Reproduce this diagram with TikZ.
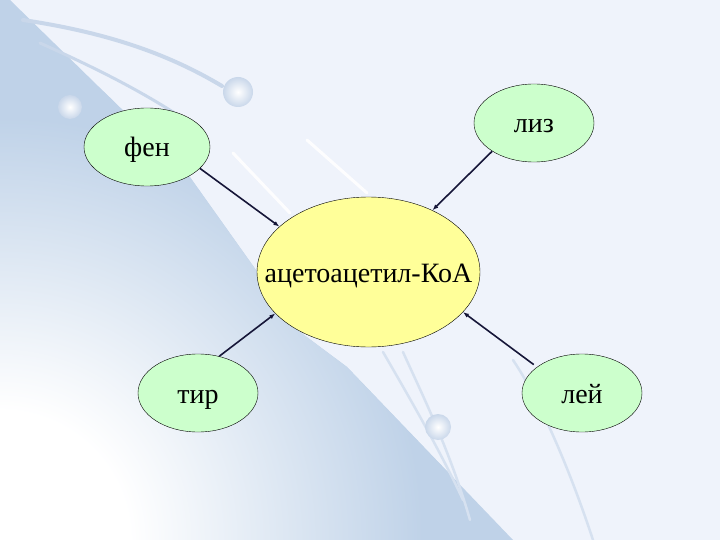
\documentclass[tikz,border=0pt]{standalone}
\usepackage{fontspec}
\setmainfont{Liberation Serif}
\usetikzlibrary{shapes.geometric,arrows.meta}

\definecolor{paleblue}{HTML}{EFF3FB}
\definecolor{bandblue}{HTML}{BFD2E8}
\definecolor{streak}{HTML}{C9D7EA}
\definecolor{aminogreen}{HTML}{CCFFCC}
\definecolor{koayellow}{HTML}{FFFF99}
\definecolor{arrowblue}{HTML}{161638}

\pgfdeclareradialshading{cornerglow}{\pgfpoint{0bp}{0bp}}{color(0bp)=(white); color(7bp)=(white); color(23bp)=(bandblue); color(25bp)=(bandblue); color(50bp)=(bandblue)}

\tikzset{
  labeltext/.style={font=\fontsize{28}{32}\selectfont, text height=26pt, text depth=6pt},
  amino/.style={ellipse, draw=black, thin, fill=aminogreen, inner sep=0pt,
    minimum width=120pt, minimum height=78pt, labeltext},
  koa/.style={ellipse, draw=black, thin, fill=koayellow, inner sep=0pt,
    minimum width=223pt, minimum height=150pt},
  feed/.style={draw=arrowblue, line width=1.6pt, -{Latex[length=6pt,width=4.5pt]}},
  streakline/.style={draw=streak, line width=#1, line cap=round},
  streakline/.default=3pt,
  faintline/.style={draw=streak!65!paleblue, line width=2.5pt, line cap=round},
  glint/.style={draw=white, line width=3pt, line cap=round, opacity=0.9},
  bead/.style={inner color=white, outer color=streak, draw=none}
}

\begin{document}
\begin{tikzpicture}[x=1pt, y=-1pt]
  \fill[paleblue] (0,0) rectangle (720,540);
  \useasboundingbox (0,0) rectangle (720,540);

  \begin{scope}
    \clip (0,0) -- (10,0) -- (187,173) -- (300,332) -- (347,367) -- (513,540) -- (0,540) -- cycle;
    \fill[bandblue] (0,0) rectangle (520,540);
    \shade[shading=cornerglow] (0,540) circle (460);
  \end{scope}

  \draw[streakline=4pt] (23,20) .. controls (110,33) and (170,55) .. (222,86);
  \draw[streakline] (40,43) .. controls (100,70) and (150,95) .. (200,130);
  \draw[glint] (233,153) -- (290,213);
  \draw[glint] (307,140) -- (367,193);
  \draw[faintline] (383,352) .. controls (405,390) and (440,450) .. (463,500);
  \draw[faintline] (403,352) .. controls (420,390) and (450,450) .. (470,520);
  \draw[faintline] (513,360) .. controls (540,400) and (570,470) .. (593,540);
  \shade[bead] (238,92) circle (15);
  \shade[bead] (70,107) circle (12);
  \shade[bead] (438,427) circle (13);

  \node[koa, label={[labeltext]center:ацетоацетил-КоА}] (koa) at (368.5,272) {};
  \node[amino, minimum width=126pt] (fen) at (147,147) {фен};
  \node[amino] (liz) at (534,123) {лиз};
  \node[amino] (tir) at (198,393) {тир};
  \node[amino] (lei) at (582,393) {лей};

  \draw[feed] (fen.-22) -- (koa.153);
  \draw[feed] (liz.214) -- (koa.44);
  \draw[feed] (tir.60) -- (koa.204);
  \draw[feed, shorten <=4pt] (lei.150) -- (koa.-23);
\end{tikzpicture}
\end{document}
